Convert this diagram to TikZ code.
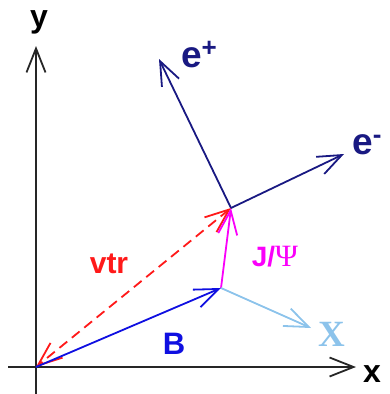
\documentclass[tikz,border=0pt]{standalone}
\usepackage{fontspec}
\setsansfont{Liberation Sans}
\newfontfamily\timesfam{Liberation Serif}
\renewcommand{\familydefault}{\sfdefault}
\usepackage{tikz}
\usetikzlibrary{arrows.meta}
\definecolor{enavy}{RGB}{25, 25, 130}
\definecolor{bblue}{RGB}{15, 15, 225}
\definecolor{vtrred}{RGB}{255, 25, 25}
\definecolor{jmag}{RGB}{250, 0, 250}
\definecolor{xsky}{RGB}{140, 195, 235}

\begin{document}
\begin{tikzpicture}[x=1pt, y=-1pt,
    vec/.style={line width=1.8pt, -{Straight Barb[length=24pt, width=19pt, line width=1.8pt]}},
    lbl/.style={font=\bfseries\fontsize{28}{30}\selectfont, inner sep=0pt}]
  \useasboundingbox (0,0) rectangle (389,394);

  % points
  \coordinate (o) at (36,367);
  \coordinate (bv) at (221,288);
  \coordinate (jv) at (231,208);
  \coordinate (xtip) at (311,328);
  \coordinate (ep) at (159,59);
  \coordinate (em) at (344,154);
  \coordinate (xax0) at (8,367);
  \coordinate (xax1) at (356,367);
  \coordinate (yax0) at (36,394);
  \coordinate (yax1) at (36,46);

  % axes
  \draw[vec, black!85] (xax0) -- (xax1);
  \draw[vec, black!85] (yax0) -- (yax1);
  \node[lbl, font=\bfseries\fontsize{32}{34}\selectfont] (xlbl) at (372,374) {x};
  \node[lbl, font=\bfseries\fontsize{32}{34}\selectfont] (ylbl) at (39,22) {y};

  % vectors
  \draw[vec, vtrred, dash pattern=on 10pt off 6pt,
        {Straight Barb[length=24pt, width=19pt, line width=1.8pt]}-{Straight Barb[length=24pt, width=19pt, line width=1.8pt]}] (jv) -- (o);
  \draw[vec, bblue] (o) -- (bv);
  \draw[vec, jmag] (bv) -- (jv);
  \draw[vec, xsky] (bv) -- (xtip);
  \draw[vec, enavy] (jv) -- (ep);
  \draw[vec, enavy] (jv) -- (em);

  % labels
  \node[lbl, vtrred, font=\bfseries\fontsize{30}{32}\selectfont] (vtrlbl) at (109,264) {vtr};
  \node[lbl, bblue, font=\bfseries\fontsize{31}{33}\selectfont] (blbl) at (174,344) {B};
  \node[lbl, jmag] (jlbl) at (275,257) {J/{\mdseries\timesfam\fontsize{31}{33}\selectfont Ψ}};
  \node[lbl, xsky, font=\timesfam\bfseries\fontsize{37}{39}\selectfont] (xlab) at (332,334) {X};
  \node[lbl, enavy, font=\bfseries\fontsize{37}{39}\selectfont] (eplbl) at (199,55) {e\raisebox{11pt}{\fontsize{26}{26}\selectfont +}};
  \node[lbl, enavy, font=\bfseries\fontsize{37}{39}\selectfont] (emlbl) at (367,145) {e\raisebox{11pt}{\fontsize{26}{26}\selectfont -}};
\end{tikzpicture}
\end{document}
